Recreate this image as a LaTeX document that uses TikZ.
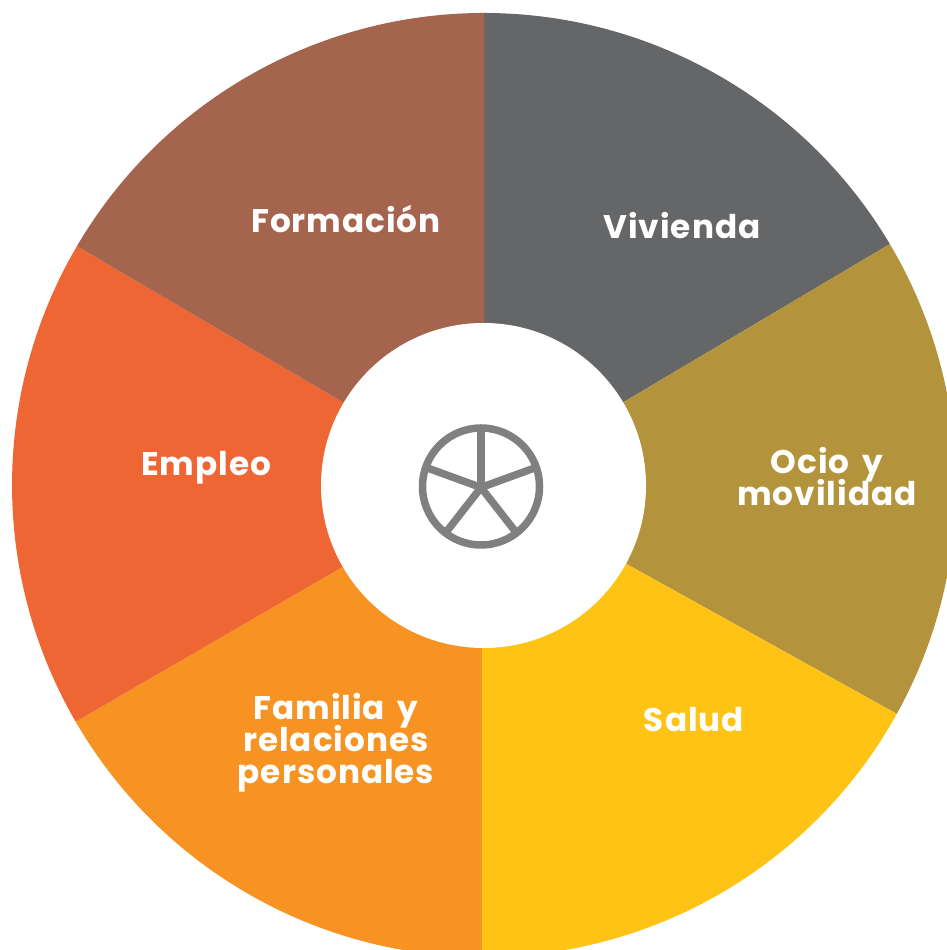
\documentclass[tikz,border=0pt]{standalone}
\usepackage{fontspec}
\setmainfont{Poppins}[LetterSpace=3,WordSpace=1.6]
\definecolor{wheelbrown}{HTML}{A5644E}
\definecolor{wheelgray}{HTML}{656667}
\definecolor{wheelolive}{HTML}{B3943D}
\definecolor{wheelyellow}{HTML}{FEC315}
\definecolor{wheelorange}{HTML}{F69322}
\definecolor{wheelred}{HTML}{EE6633}
\definecolor{iconcolor}{HTML}{808080}
\setlength{\lineskiplimit}{-5pt}
\tikzset{
wheellabel/.style={text=white,align=center,inner sep=0pt,font=\fontsize{9.3}{9.1}\selectfont\bfseries},
spoke/.style={draw=iconcolor,line width=0.075cm}
}

\begin{document}
\begin{tikzpicture}
\useasboundingbox (0,0) rectangle (9.46,9.5);
\coordinate (hub) at (4.84,4.65);
\coordinate (icon) at (4.81,4.635);
\coordinate (iconhub) at (4.81,4.625);
\fill[wheelgray] (hub) -- ++(90:4.72) arc (90:30.7:4.72) -- cycle;
\fill[wheelolive] (hub) -- ++(30.7:4.72) arc (30.7:-29:4.72) -- cycle;
\fill[wheelyellow] (hub) -- ++(-29:4.72) arc (-29:-92:4.72) -- cycle;
\fill[wheelorange] (hub) -- ++(210.1:4.72) arc (210.1:269.75:4.72) -- (4.82,4.65) -- cycle;
\fill[wheelred] (hub) -- ++(149.6:4.72) arc (149.6:210.1:4.72) -- cycle;
\fill[wheelbrown] (hub) -- ++(90:4.72) arc (90:149.6:4.72) -- cycle;
\fill[white] (4.835,4.645) circle (1.625);
\draw[spoke] (icon) circle (0.585);
\draw[spoke] (iconhub) -- ++(90:0.6);
\draw[spoke] (iconhub) -- ++(20:0.58);
\draw[spoke] (iconhub) -- ++(160:0.58);
\draw[spoke] (iconhub) -- ++(-52:0.57);
\draw[spoke] (iconhub) -- ++(-128:0.57);
\node[wheellabel] (formacion) at (3.46,7.31) {Formación};
\node[wheellabel] (vivienda) at (6.82,7.24) {Vivienda};
\node[wheellabel] (ocio) at (8.27,4.73) {Ocio y\\movilidad};
\node[wheellabel] (salud) at (6.94,2.30) {Salud};
\node[wheellabel] (familia) at (3.36,2.07) {Familia y\\relaciones\\personales};
\node[wheellabel] (empleo) at (2.06,4.82) {Empleo};
\end{tikzpicture}
\end{document}
